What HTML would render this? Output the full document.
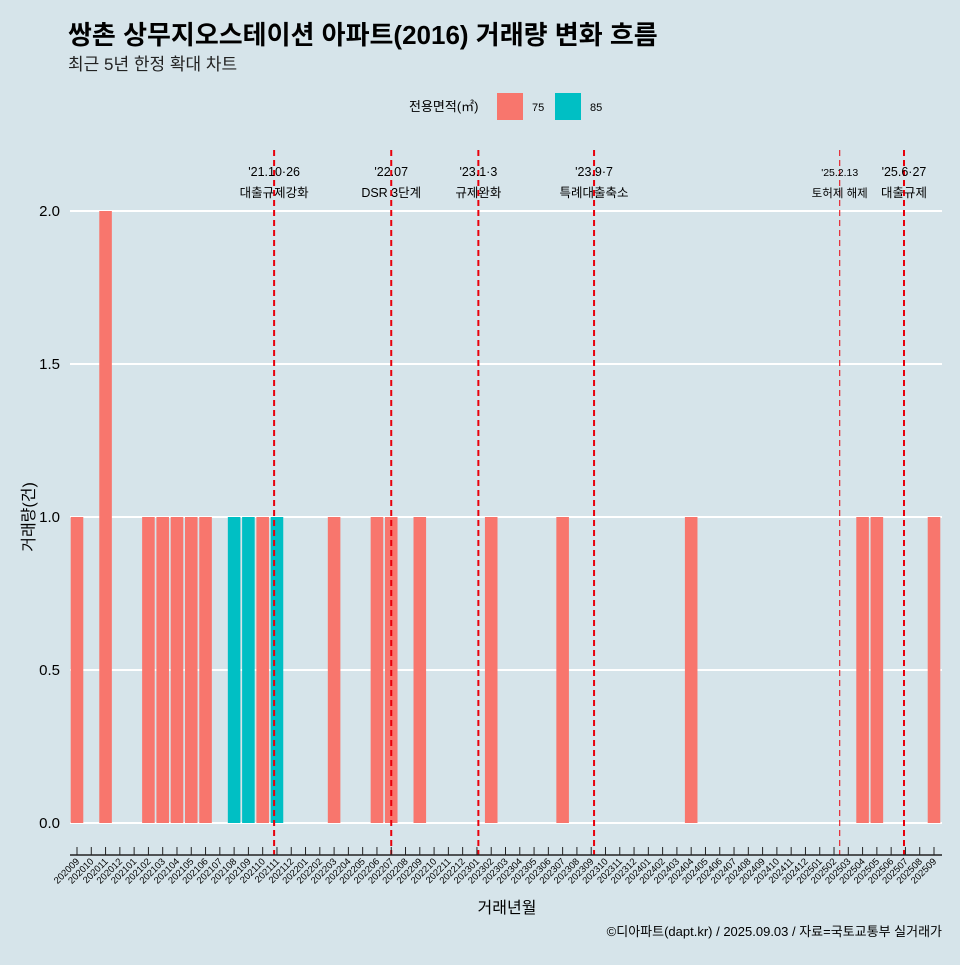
<!DOCTYPE html>
<html><head><meta charset="utf-8"><style>
body{margin:0;background:#d6e4ea;font-family:"Liberation Sans","Noto Sans CJK KR",sans-serif}
svg text{font-family:"Liberation Sans","Noto Sans CJK KR",sans-serif}
</style></head><body>
<svg width="960" height="960" xmlns="http://www.w3.org/2000/svg">
<rect width="960" height="960" fill="#d6e4ea"/>
<text x="68" y="44" font-size="26" font-weight="bold" fill="#000">쌍촌 상무지오스테이션 아파트(2016) 거래량 변화 흐름</text>
<text x="68" y="70" font-size="17" fill="#222">최근 5년 한정 확대 차트</text>
<g>
<text x="409" y="111" font-size="13">전용면적(㎡)</text>
<rect x="497" y="93" width="26" height="27" fill="#F8766D"/>
<text x="532" y="111" font-size="11">75</text>
<rect x="555" y="93" width="26" height="27" fill="#00BFC4"/>
<text x="590" y="111" font-size="11">85</text>
</g>
<g id="grid"></g><g id="bars"></g><g id="events"></g><g id="axes"></g>
<text x="0" y="0" transform="translate(34,517) rotate(-90)" text-anchor="middle" font-size="16">거래량(건)</text>
<text x="507" y="913" text-anchor="middle" font-size="16">거래년월</text>
<text x="942" y="936" text-anchor="end" font-size="13">©디아파트(dapt.kr) / 2025.09.03 / 자료=국토교통부 실거래가</text>
</svg>
<script>
const months = [];
for (let y = 2020, m = 9; y * 100 + m <= 202509; m++) { if (m > 12) { m = 1; y++; } months.push(String(y * 100 + m)); }
const series75 = {"202009":1,"202011":2,"202102":1,"202103":1,"202104":1,"202105":1,"202106":1,"202110":1,"202203":1,"202206":1,"202207":1,"202209":1,"202302":1,"202307":1,"202404":1,"202504":1,"202505":1,"202509":1};
const series85 = {"202108":1,"202109":1,"202111":1};
const yTicks = [0, 0.5, 1, 1.5, 2];
const yTickLabels = ["0.0","0.5","1.0","1.5","2.0"];
const eventMonths = ["202110","202207","202301","202309","202502","202506"];
const eventOffsets = [0.8, 0, 0.1, 0.2, 0.4, 0.9];
const eventDates = ["'21.10·26","'22.07","'23.1·3","'23.9·7","'25.2.13","'25.6·27"];
const eventNames = ["대출규제강화","DSR 3단계","규제완화","특례대출축소","토허제 해제","대출규제"];
const NS = "http://www.w3.org/2000/svg";
const x0 = 77, step = (934 - 77) / 60;
const xS = i => x0 + i * step;
const yS = v => 823 - v * 306;
function mk(tag, attrs, parent) { const e = document.createElementNS(NS, tag); for (const k in attrs) e.setAttribute(k, attrs[k]); document.getElementById(parent).appendChild(e); return e; }
yTicks.forEach((v, i) => {
  const l = mk("line", {x1:70, x2:942, y1:yS(v), y2:yS(v), stroke:"#fff", "stroke-width":2}, "grid");
  
  
  const t = mk("text", {x:60, y:yS(v)+5, "text-anchor":"end", "font-size":15}, "axes");
  t.textContent = yTickLabels[i];
  
  
});
const bw = step * 0.88;
months.forEach((m, i) => {
  [[series75, "#F8766D"], [series85, "#00BFC4"]].forEach(([s, c]) => {
    if (s[m]) {
      const r = mk("rect", {x:xS(i)-bw/2, y:yS(s[m]), width:bw, height:yS(0)-yS(s[m]), fill:c}, "bars");
      
      
    }
  });
  const tk = mk("line", {x1:xS(i), x2:xS(i), y1:847, y2:855, stroke:"#222", "stroke-width":1}, "axes");
  
  
  const t = mk("text", {x:0, y:0, transform:`translate(${xS(i)+3},${862}) rotate(-45)`, "text-anchor":"end", "font-size":9.5}, "axes");
  t.textContent = m;
  
  
});
const ax = mk("line", {x1:70, x2:942, y1:855, y2:855, stroke:"#222", "stroke-width":1.5}, "axes");


eventMonths.forEach((m, i) => {
  const x = xS(months.indexOf(m) + eventOffsets[i]);
  const thin = i === 4;
  const l = mk("line", {x1:x, x2:x, y1:150, y2:855, stroke:"#e8000b", "stroke-width":thin?1:2, "stroke-dasharray":"6,4"}, "events");
  
  
  const t1 = mk("text", {x:x, y:176, "text-anchor":"middle", "font-size":thin?10.5:12.5}, "events");
  t1.textContent = eventDates[i];
  
  
  const t2 = mk("text", {x:x, y:197, "text-anchor":"middle", "font-size":thin?11.5:12.5}, "events");
  t2.textContent = eventNames[i];
  
  
});
</script>
</body></html>
